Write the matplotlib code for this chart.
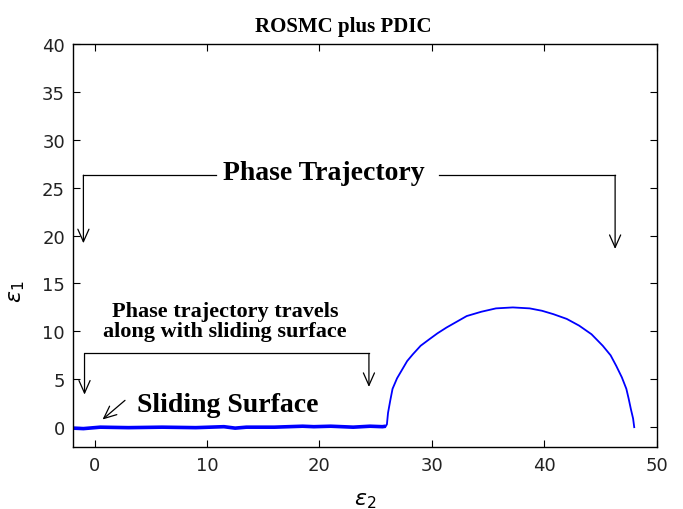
import numpy as np
import matplotlib
matplotlib.use('Agg')
import matplotlib.pyplot as plt

#################### DATOS ###################

# Tramo sobre la superficie de deslizamiento (e2, e1)
e2_slide = [-1.9, -1.0, 0.5, 3.0, 6.0, 9.0, 11.5, 12.5, 13.5, 16.0, 18.5, 19.5, 21.0, 23.0, 24.5, 25.6, 25.9]
e1_slide = [-0.1, -0.15, 0.0, -0.05, 0.0, -0.05, 0.05, -0.1, 0.0, 0.0, 0.1, 0.05, 0.1, 0.0, 0.1, 0.05, 0.1]

# Tramo de alcance (arco)
e2_reach = [25.9, 26.0, 26.05, 26.1, 26.3, 26.5, 26.9, 27.4, 27.8, 28.3, 29.0, 29.8, 30.5,
            31.3, 32.2, 33.1, 34.4, 35.7, 37.2, 38.7, 39.8, 40.8, 42.0, 43.1, 44.2,
            45.2, 45.9, 46.4, 46.9, 47.3, 47.5, 47.7, 47.9, 48.0]
e1_reach = [0.1, 0.3, 0.9, 1.5, 2.8, 4.0, 5.1, 6.1, 6.9, 7.6, 8.5, 9.2, 9.8,
            10.4, 11.0, 11.6, 12.05, 12.4, 12.5, 12.4, 12.15, 11.8, 11.3, 10.6, 9.7,
            8.5, 7.5, 6.4, 5.2, 4.0, 3.0, 1.9, 0.9, 0.0]

xticks = [0, 10, 20, 30, 40, 50]
yticks = [0, 5, 10, 15, 20, 25, 30, 35, 40]

#################### GRAFICA ###################

fig = plt.figure(figsize=(6.83, 5.10), dpi=100)
ax = fig.add_axes([0.1073, 0.1210, 0.8542, 0.7908])

ax.plot(e2_slide, e1_slide, color=(0, 0, 1), linewidth=2.6, solid_capstyle='butt')
ax.plot(e2_reach, e1_reach, color=(0, 0, 1), linewidth=1.3)

ax.set_xlim(-1.9, 50)
ax.set_ylim(-2.1, 40)
ax.set_xticks(xticks)
ax.set_yticks(yticks)
ax.tick_params(direction='in', top=True, right=True, length=5, width=0.8,
               labelsize=13, pad=6)
for lab in ax.get_xticklabels() + ax.get_yticklabels():
    lab.set_color('#222222')
for s in ax.spines.values():
    s.set_linewidth(1.0)

# Titulo (ligeramente a la izquierda del centro)
ax.text(0.462, 1.045, 'ROSMC plus PDIC', transform=ax.transAxes, family='Liberation Serif',
        fontweight='bold', fontsize=15, ha='center', va='center')
ax.set_xlabel(r'$\varepsilon_2$', fontsize=16)
ax.set_ylabel(r'$\varepsilon_1$', fontsize=16, rotation=90)
ax.xaxis.set_label_coords(0.5, -0.105)
ax.yaxis.set_label_coords(-0.079, 0.388)

serif = dict(family='Liberation Serif', fontweight='bold', color='black')
flecha = dict(arrowstyle='->, head_length=0.9, head_width=0.4', color='black',
              lw=0.9, shrinkA=0, shrinkB=0)

# Phase Trajectory
ax.text(20.4, 26.6, 'Phase Trajectory', fontsize=20, ha='center', va='center', **serif)
ax.plot([-1.0, 10.8], [26.3, 26.3], color='black', lw=0.9)
ax.plot([30.6, 46.3], [26.3, 26.3], color='black', lw=0.9)
ax.annotate('', xy=(-1.0, 19.2), xytext=(-1.0, 26.3), arrowprops=flecha)
ax.annotate('', xy=(46.3, 18.6), xytext=(46.3, 26.3), arrowprops=flecha)

# Phase trajectory travels along with sliding surface
ax.text(11.6, 11.1, 'Phase trajectory travels\nalong with sliding surface', fontsize=16,
        ha='center', va='center', linespacing=1.0, **serif)
ax.plot([-0.9, 24.4], [7.7, 7.7], color='black', lw=0.9)
ax.annotate('', xy=(-0.9, 3.4), xytext=(-0.9, 7.7), arrowprops=flecha)
ax.annotate('', xy=(24.4, 4.2), xytext=(24.4, 7.7), arrowprops=flecha)

# Sliding Surface
ax.text(3.8, 2.4, 'Sliding Surface', fontsize=20, ha='left', va='center', **serif)
ax.annotate('', xy=(0.7, 0.8), xytext=(2.7, 2.8), arrowprops=flecha)

plt.savefig('out.png', dpi=100)
